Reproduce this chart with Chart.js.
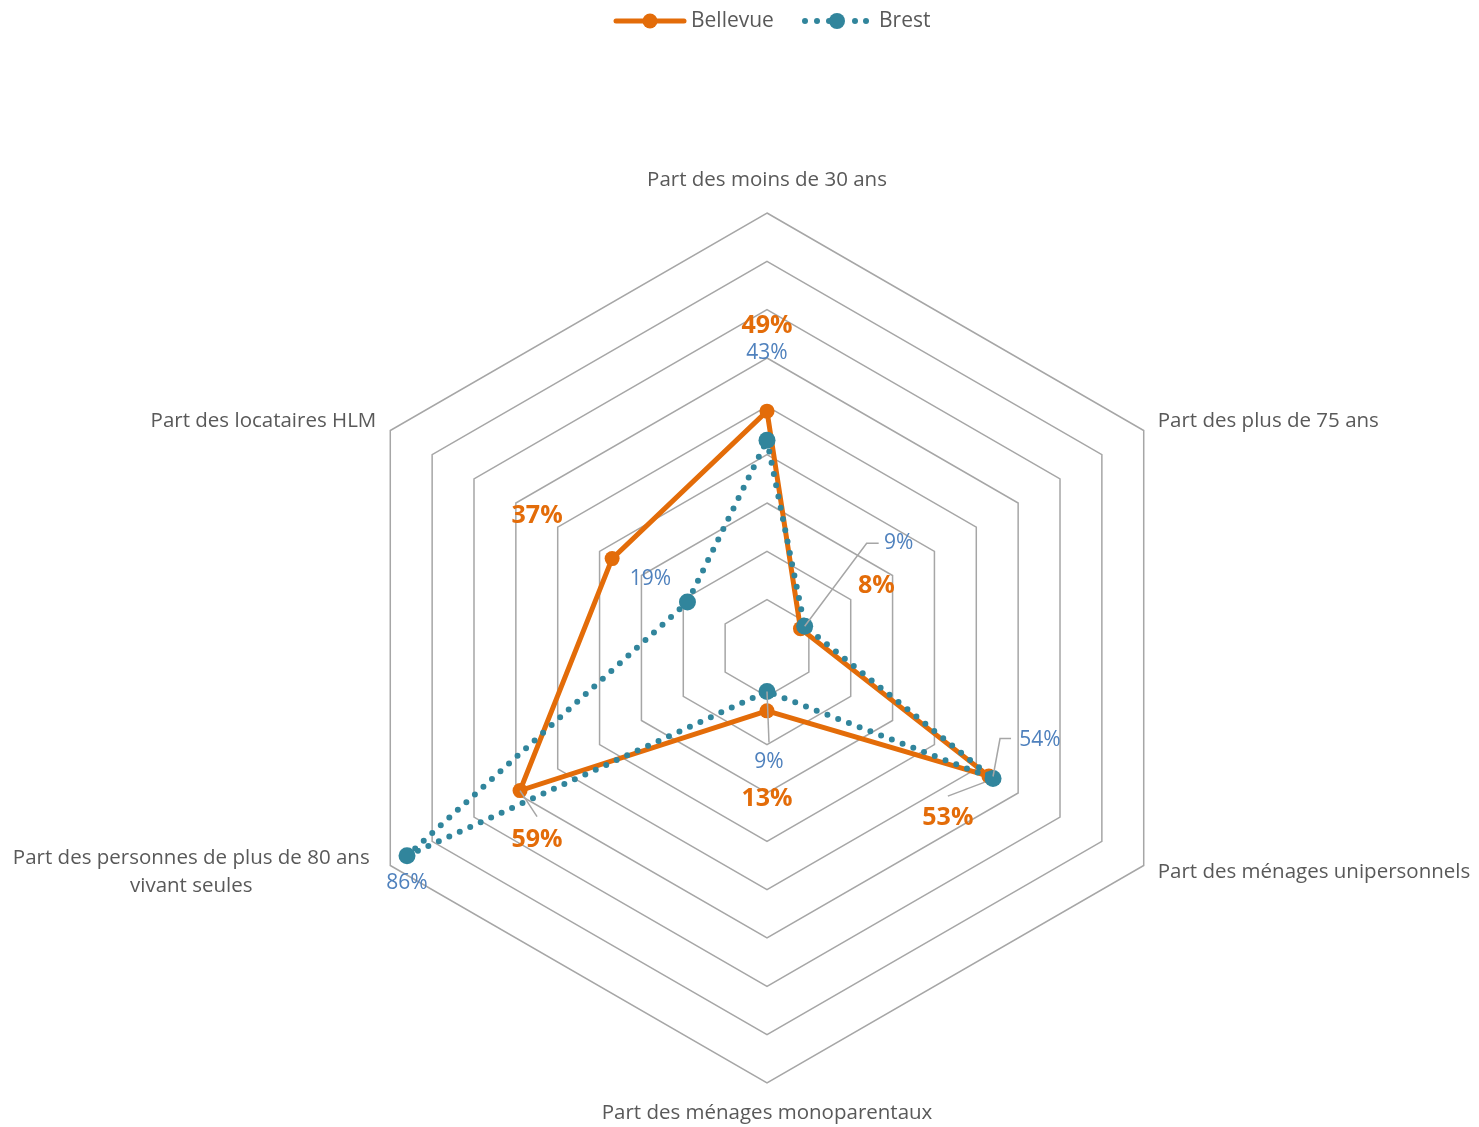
<!DOCTYPE html>
<html>
<head>
<meta charset="utf-8">
<script src="https://cdn.jsdelivr.net/npm/chart.js@4.4.1/dist/chart.umd.min.js"></script>
<style>
  html, body { margin: 0; padding: 0; background: #fff; }
  canvas { display: block; }
</style>
</head>
<body>
<canvas id="radar" width="1479" height="1127"></canvas>
<script>
// --- données ---
const categories = [
  'Part des moins de 30 ans',
  'Part des plus de 75 ans',
  'Part des ménages unipersonnels',
  'Part des ménages monoparentaux',
  ['Part des personnes de plus de 80 ans', 'vivant seules'],
  'Part des locataires HLM',
];
const bellevue = [49, 8, 53, 13, 59, 37];
const brest = [43, 9, 54, 9, 86, 19];
const seriesNames = ['Bellevue', 'Brest'];
const scaleMax = 90;
const scaleStep = 10;

// --- style ---
const ORANGE = '#e36c09';
const TEAL = '#31859c';
const BLUE_LBL = '#4f81bd';
const GRID = '#a6a6a6';
const TXT = '#595959';
const FONT = '"Open Sans", "Noto Sans", sans-serif';

// décalage des étiquettes de valeurs (px, par rapport au point)
const offBellevue = [[0, -85], [76, -43], [-41, 42], [0, 88], [17, 49], [-75, -43]];
const offBrest = [[0, -87], [94, -83], [47, -38], [2, 71], [0, 27], [-37, -23]];
const leaderBrest = [false, true, true, true, false, false];
const leaderBellevue = [false, false, true, false, true, false];

const labelsPlugin = {
  id: 'labels',
  afterDraw(chart) {
    const { ctx } = chart;
    const r = chart.scales.r;
    const R = r.drawingArea;
    ctx.save();

    // libellés des axes
    ctx.fillStyle = TXT;
    ctx.font = `20.5px ${FONT}`;
    categories.forEach((lab, i) => {
      const p = r.getPointPosition(i, R);
      const lines = Array.isArray(lab) ? lab : [lab];
      let x = p.x, y = p.y, align = 'center';
      if (i === 0) { y -= 33; }
      else if (i === 3) { y += 30; }
      else if (i === 1) { x += 14; y -= 9; align = 'left'; }
      else if (i === 2) { x += 14; y += 7; align = 'left'; }
      else if (i === 5) { x -= 14; y -= 9; align = 'right'; }
      else if (i === 4) { x -= 199; y += 7; }
      ctx.textAlign = align;
      ctx.textBaseline = 'middle';
      const lh = 28;
      lines.forEach((t, k) => ctx.fillText(t, x, y + (k - (lines.length - 1) / 2) * lh));
    });

    // étiquettes de valeurs
    const drawVals = (data, off, leader, color, font) => {
      data.forEach((v, i) => {
        const p = r.getPointPosition(i, r.getDistanceFromCenterForValue(v));
        const lx = p.x + off[i][0], ly = p.y + off[i][1];
        if (leader[i]) {
          ctx.strokeStyle = GRID;
          ctx.lineWidth = 1.5;
          ctx.beginPath();
          if (i === 1) { ctx.moveTo(p.x, p.y); ctx.lineTo(lx - 32, ly); ctx.lineTo(lx - 20, ly); }
          else if (i === 2 && color === BLUE_LBL) { ctx.moveTo(p.x, p.y - 2); ctx.lineTo(lx - 40, ly - 2); ctx.lineTo(lx - 29, ly - 2); }
          else if (i === 2) { ctx.moveTo(p.x - 4, p.y + 6); ctx.lineTo(lx, ly - 22); }
          else if (i === 3) { ctx.moveTo(p.x, p.y); ctx.lineTo(lx, ly - 20); }
          else if (i === 4) { ctx.moveTo(p.x, p.y); ctx.lineTo(lx, ly - 23); }
          ctx.stroke();
        }
        ctx.fillStyle = color;
        ctx.font = font;
        ctx.textAlign = 'center';
        ctx.textBaseline = 'middle';
        ctx.fillText(v + '%', lx, ly);
      });
    };
    drawVals(brest, offBrest, leaderBrest, BLUE_LBL, `21px ${FONT}`);
    drawVals(bellevue, offBellevue, leaderBellevue, ORANGE, `bold 25px ${FONT}`);

    // légende
    const ly = 21;
    ctx.lineCap = 'round';
    ctx.strokeStyle = ORANGE;
    ctx.lineWidth = 5;
    ctx.beginPath(); ctx.moveTo(616, ly); ctx.lineTo(684, ly); ctx.stroke();
    ctx.fillStyle = ORANGE;
    ctx.beginPath(); ctx.arc(650, ly, 7.5, 0, Math.PI * 2); ctx.fill();
    ctx.fillStyle = TEAL;
    [805, 817, 829, 855, 866].forEach(x => { ctx.beginPath(); ctx.arc(x, ly, 3, 0, Math.PI * 2); ctx.fill(); });
    ctx.beginPath(); ctx.arc(837, ly, 8, 0, Math.PI * 2); ctx.fill();
    ctx.fillStyle = TXT;
    ctx.font = `21px ${FONT}`;
    ctx.textAlign = 'left';
    ctx.textBaseline = 'middle';
    ctx.fillText(seriesNames[0], 691, ly);
    ctx.fillText(seriesNames[1], 879, ly);
    ctx.restore();
  }
};

new Chart(document.getElementById('radar'), {
  type: 'radar',
  data: {
    labels: categories,
    datasets: [
      {
        label: seriesNames[0],
        data: bellevue,
        borderColor: ORANGE,
        backgroundColor: ORANGE,
        borderWidth: 5,
        pointRadius: 7.5,
        pointBackgroundColor: ORANGE,
        pointBorderWidth: 0,
        fill: false,
        order: 1,
      },
      {
        label: seriesNames[1],
        data: brest,
        borderColor: TEAL,
        backgroundColor: TEAL,
        borderWidth: 6,
        borderDash: [0, 11.5],
        borderCapStyle: 'round',
        pointRadius: 8.5,
        pointBackgroundColor: TEAL,
        pointBorderWidth: 0,
        fill: false,
        order: 0,
      },
    ],
  },
  options: {
    responsive: false,
    animation: false,
    devicePixelRatio: 1,
    layout: { padding: { left: 332, right: 277, top: 213, bottom: 44 } },
    plugins: { legend: { display: false }, tooltip: { enabled: false } },
    elements: { line: { tension: 0 } },
    scales: {
      r: {
        min: 0,
        max: scaleMax,
        ticks: { display: false, stepSize: scaleStep },
        grid: { color: GRID, lineWidth: 1.5 },
        angleLines: { display: false },
        pointLabels: { display: false },
      },
    },
  },
  plugins: [labelsPlugin],
});
</script>
</body>
</html>
